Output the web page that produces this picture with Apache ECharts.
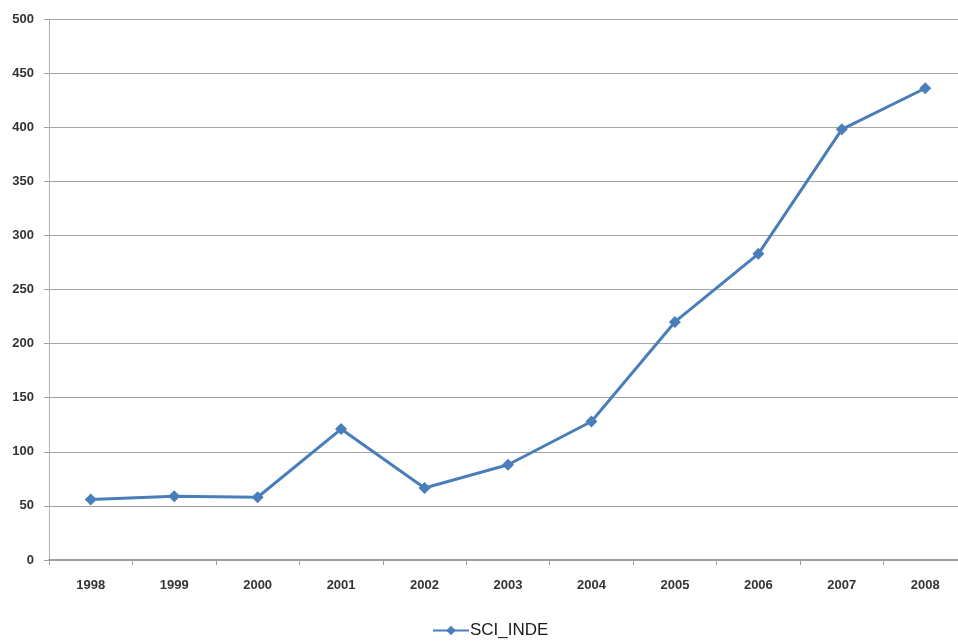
<!DOCTYPE html>
<html>
<head>
<meta charset="utf-8">
<script src="https://cdn.jsdelivr.net/npm/echarts@6/dist/echarts.min.js"></script>
<style>
  html, body { margin: 0; padding: 0; background: #ffffff; overflow: hidden; }
  #wrap { width: 958px; height: 642px; overflow: hidden; }
  /* the plot runs slightly past the right edge of the view */
  #chart { width: 967px; height: 642px; }
</style>
</head>
<body>
<div id="wrap"><div id="chart"></div></div>
<script>
// Yearly values of the SCI_INDE series
const years = ['1998', '1999', '2000', '2001', '2002', '2003', '2004', '2005', '2006', '2007', '2008'];
const sciInde = [56, 59, 58, 121, 66.5, 88, 128, 220, 283, 398, 436];
const seriesName = 'SCI_INDE';

const chart = echarts.init(document.getElementById('chart'));
const labelFont = { color: '#333333', fontFamily: '"Liberation Sans", Arial, sans-serif', fontSize: 13, fontWeight: 'bold' };

chart.setOption({
  animation: false,
  backgroundColor: '#ffffff',
  grid: { left: 49, right: 0, top: 19, bottom: 82, containLabel: false },
  legend: {
    top: 617,
    left: 427,
    data: [seriesName],
    itemWidth: 36,
    itemHeight: 12,
    itemGap: 4,
    textStyle: { color: '#1a1a1a', fontSize: 17, fontFamily: '"Liberation Sans", Arial, sans-serif', padding: [0, 0, 0, -4] }
  },
  xAxis: {
    type: 'category',
    data: years,
    boundaryGap: true,
    axisLine: { lineStyle: { color: '#a0a0a0', width: 2 } },
    axisTick: { show: true, length: 5, lineStyle: { color: '#a0a0a0', width: 1 } },
    axisLabel: Object.assign({ margin: 19 }, labelFont),
    splitLine: { show: false }
  },
  yAxis: {
    type: 'value',
    min: 0,
    max: 500,
    interval: 50,
    axisLine: { show: true, lineStyle: { color: '#b0b0b0', width: 1 } },
    axisTick: { show: true, length: 5, lineStyle: { color: '#a0a0a0' } },
    axisLabel: Object.assign({ margin: 15 }, labelFont),
    splitLine: { show: true, lineStyle: { color: '#a4a4a4', width: 1 } }
  },
  series: [{
    name: seriesName,
    type: 'line',
    data: sciInde,
    symbol: 'diamond',
    symbolSize: 12,
    showAllSymbol: true,
    lineStyle: { color: '#4a7ebb', width: 3 },
    itemStyle: { color: '#4a7ebb' }
  }]
});
</script>
</body>
</html>
